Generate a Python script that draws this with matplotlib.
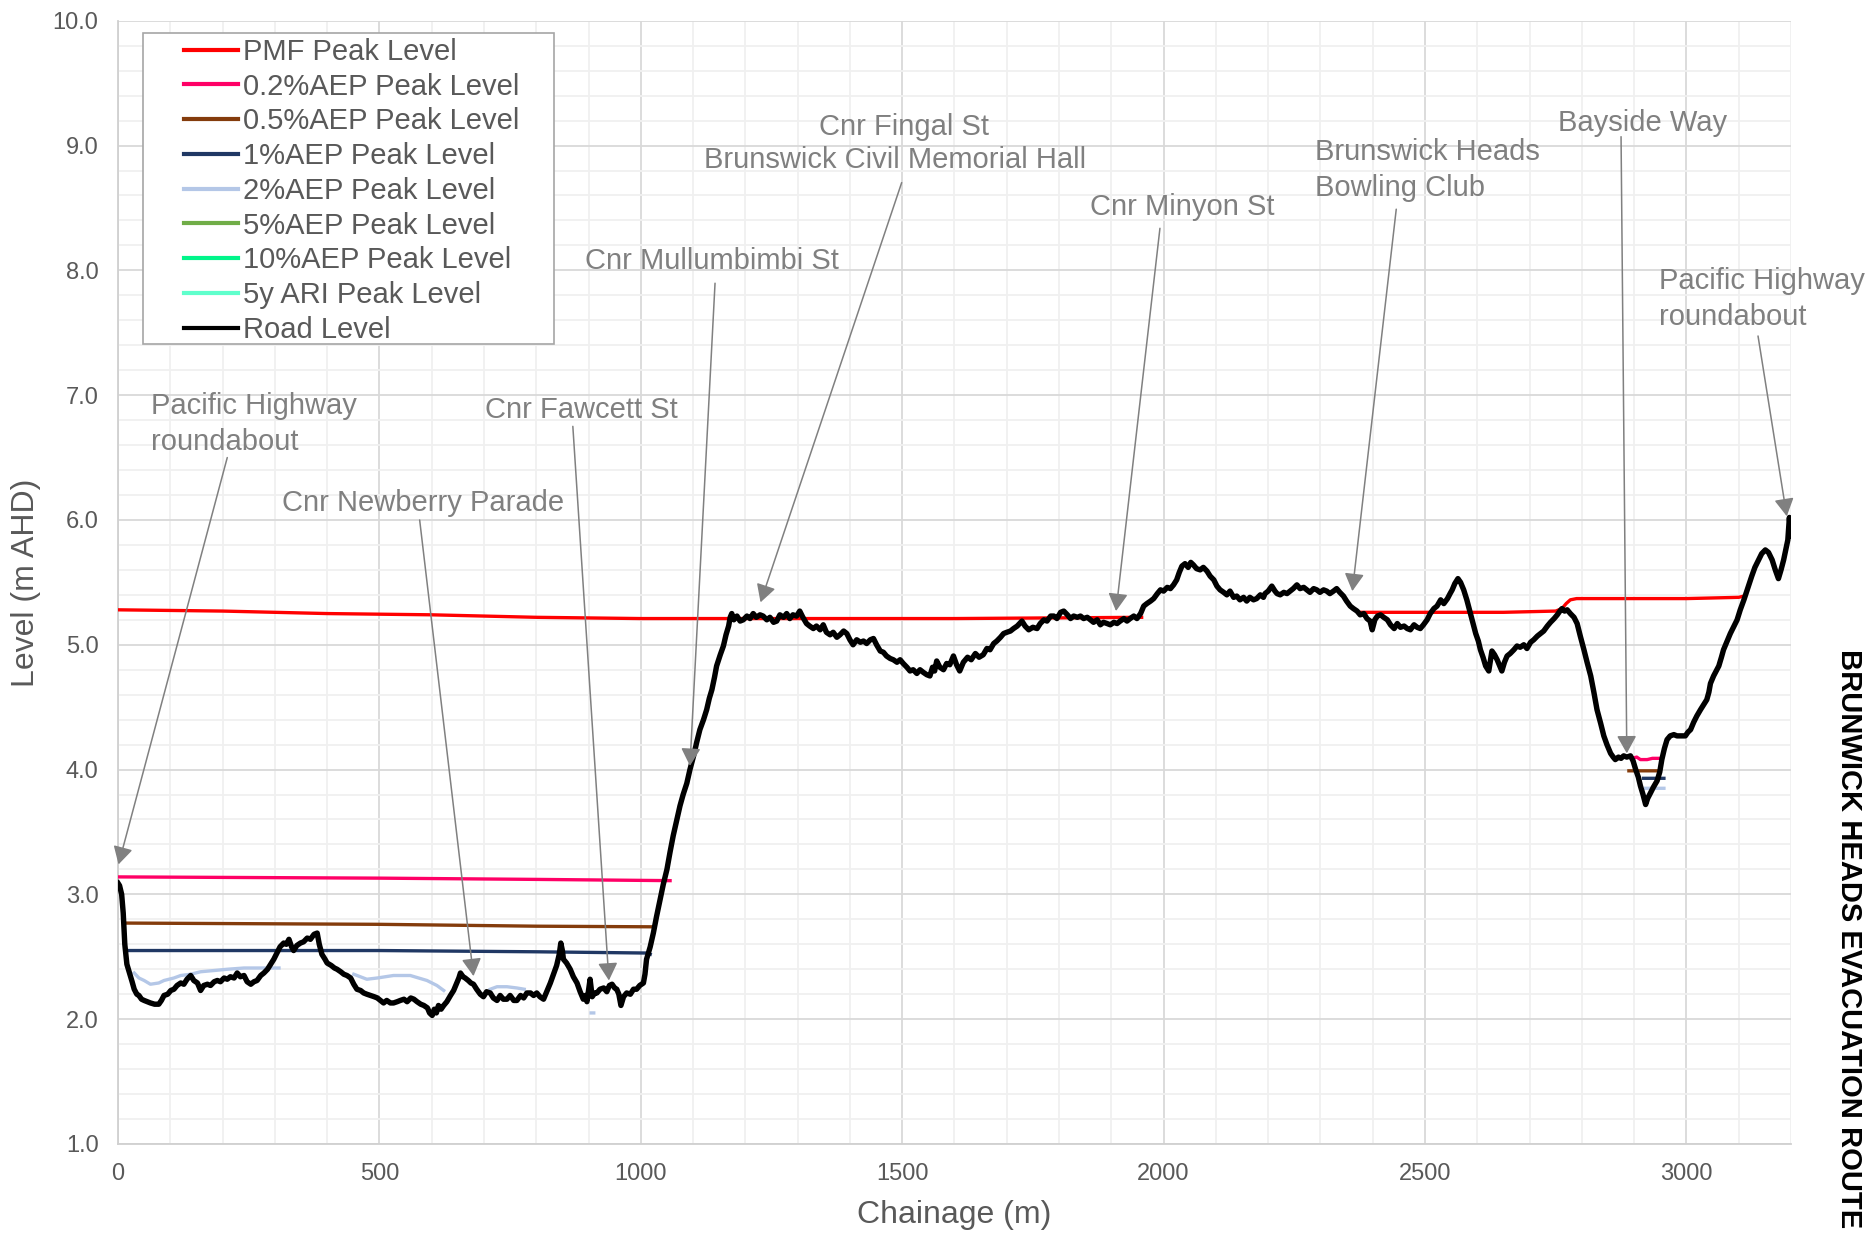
import matplotlib
matplotlib.use('Agg')
import matplotlib.pyplot as plt
import numpy as np
from matplotlib.patches import Rectangle
from matplotlib.ticker import MultipleLocator, FormatStrFormatter

plt.rcParams['font.family'] = ['Liberation Sans', 'DejaVu Sans']

nan = np.nan

# road profile (chainage m, level m AHD)
road_ch = [
    0, 3, 7, 10, 13, 17, 22, 27, 31, 36, 40, 45, 50, 56, 62, 70, 78, 83, 88, 95,
    101, 107, 113, 120, 126, 132, 139, 145, 152, 158, 164, 171, 177, 184, 190, 196,
    203, 209, 215, 222, 228, 234, 241, 247, 254, 260, 266, 273, 279, 286, 292, 298,
    304, 310, 317, 322, 327, 332, 336, 342, 349, 355, 362, 368, 375, 381, 385, 390,
    396, 400, 408, 414, 419, 426, 432, 438, 445, 451, 457, 464, 470, 476, 483, 490,
    496, 502, 508, 514, 521, 527, 534, 540, 547, 553, 560, 566, 572, 579, 585, 592,
    596, 601, 605, 609, 613, 618, 623, 629, 636, 642, 648, 652, 655, 660, 664, 670,
    675, 680, 686, 693, 699, 705, 712, 718, 725, 731, 737, 744, 750, 757, 763, 770,
    776, 782, 789, 795, 801, 807, 814, 820, 827, 833, 839, 844, 847, 850, 852, 858,
    865, 871, 878, 884, 890, 894, 897, 903, 907, 912, 916, 922, 929, 935, 940, 945,
    950, 954, 958, 962, 967, 973, 980, 986, 992, 998, 1005, 1008, 1011, 1018, 1024,
    1030, 1037, 1043, 1050, 1056, 1062, 1069, 1075, 1081, 1088, 1094, 1101, 1107,
    1113, 1120, 1126, 1131, 1136, 1141, 1145, 1152, 1158, 1163, 1168, 1171, 1174,
    1178, 1184, 1190, 1196, 1203, 1209, 1215, 1221, 1228, 1234, 1241, 1247, 1254,
    1260, 1266, 1273, 1279, 1285, 1291, 1298, 1304, 1310, 1317, 1323, 1330, 1336,
    1343, 1349, 1355, 1362, 1368, 1375, 1381, 1388, 1394, 1400, 1406, 1413, 1420,
    1426, 1432, 1439, 1445, 1451, 1458, 1464, 1470, 1477, 1483, 1490, 1496, 1502,
    1509, 1515, 1521, 1528, 1534, 1540, 1547, 1553, 1558, 1562, 1566, 1572, 1579,
    1585, 1591, 1598, 1604, 1610, 1617, 1625, 1632, 1640, 1647, 1655, 1662, 1668,
    1675, 1681, 1688, 1694, 1700, 1707, 1713, 1720, 1729, 1735, 1742, 1750, 1758,
    1764, 1771, 1777, 1784, 1790, 1796, 1803, 1809, 1816, 1822, 1828, 1835, 1841,
    1847, 1854, 1860, 1866, 1873, 1879, 1885, 1892, 1898, 1905, 1911, 1917, 1924,
    1930, 1936, 1943, 1949, 1956, 1962, 1968, 1975, 1981, 1988, 1994, 2000, 2007,
    2013, 2019, 2025, 2030, 2035, 2041, 2047, 2052, 2057, 2063, 2070, 2076, 2083,
    2089, 2096, 2102, 2108, 2115, 2121, 2127, 2134, 2140, 2146, 2153, 2159, 2165,
    2172, 2178, 2185, 2191, 2194, 2200, 2207, 2213, 2217, 2223, 2230, 2236, 2242,
    2248, 2255, 2261, 2268, 2274, 2280, 2287, 2293, 2299, 2306, 2312, 2318, 2325,
    2331, 2337, 2344, 2350, 2357, 2363, 2370, 2376, 2383, 2389, 2395, 2399, 2404,
    2409, 2415, 2421, 2428, 2434, 2441, 2447, 2453, 2460, 2466, 2472, 2479, 2485,
    2491, 2497, 2504, 2510, 2517, 2523, 2530, 2536, 2543, 2548, 2552, 2557, 2563,
    2568, 2574, 2580, 2587, 2592, 2597, 2602, 2606, 2611, 2616, 2622, 2625, 2628,
    2633, 2638, 2642, 2647, 2652, 2657, 2663, 2670, 2676, 2682, 2689, 2695, 2702,
    2708, 2715, 2721, 2727, 2734, 2740, 2747, 2753, 2758, 2762, 2767, 2772, 2778,
    2785, 2791, 2797, 2804, 2810, 2817, 2823, 2829, 2836, 2842, 2848, 2855, 2860,
    2864, 2870, 2875, 2880, 2886, 2893, 2898, 2903, 2908, 2912, 2917, 2922, 2926,
    2931, 2937, 2944, 2949, 2953, 2958, 2963, 2969, 2976, 2982, 2990, 2998, 3003,
    3008, 3014, 3020, 3027, 3033, 3039, 3043, 3046, 3052, 3057, 3062, 3067, 3071,
    3078, 3084, 3090, 3097, 3103, 3110, 3117, 3125, 3131, 3138, 3144, 3151, 3157,
    3164, 3170, 3176, 3181, 3186, 3190, 3194, 3197, 3199, 3200,
]
road_lv = [
    3.09, 3.07, 3.00, 2.85, 2.60, 2.44, 2.37, 2.30, 2.24, 2.20, 2.19, 2.16, 2.15, 2.14, 2.13, 2.12, 2.12, 2.15, 2.19, 2.20,
    2.23, 2.24, 2.27, 2.29, 2.28, 2.32, 2.35, 2.31, 2.29, 2.23, 2.27, 2.28, 2.27, 2.30, 2.31, 2.30,
    2.33, 2.32, 2.34, 2.33, 2.37, 2.34, 2.35, 2.30, 2.28, 2.30, 2.31, 2.35, 2.37, 2.40, 2.44, 2.48,
    2.53, 2.58, 2.61, 2.60, 2.64, 2.58, 2.55, 2.59, 2.61, 2.62, 2.65, 2.64, 2.68, 2.69, 2.60, 2.52,
    2.48, 2.45, 2.43, 2.41, 2.40, 2.38, 2.36, 2.35, 2.33, 2.28, 2.24, 2.23, 2.21, 2.20, 2.19, 2.18,
    2.17, 2.15, 2.13, 2.15, 2.13, 2.13, 2.14, 2.15, 2.16, 2.14, 2.17, 2.16, 2.14, 2.12, 2.11, 2.09,
    2.05, 2.03, 2.08, 2.05, 2.11, 2.08, 2.11, 2.14, 2.19, 2.23, 2.29, 2.33, 2.37, 2.34, 2.33, 2.31,
    2.29, 2.28, 2.24, 2.20, 2.18, 2.22, 2.21, 2.17, 2.15, 2.19, 2.16, 2.16, 2.19, 2.15, 2.15, 2.19,
    2.17, 2.21, 2.21, 2.19, 2.21, 2.18, 2.16, 2.22, 2.29, 2.36, 2.43, 2.52, 2.61, 2.55, 2.48, 2.45,
    2.40, 2.34, 2.29, 2.22, 2.16, 2.19, 2.14, 2.32, 2.18, 2.21, 2.21, 2.24, 2.25, 2.22, 2.27, 2.28,
    2.25, 2.24, 2.20, 2.11, 2.18, 2.21, 2.20, 2.24, 2.24, 2.27, 2.29, 2.36, 2.48, 2.58, 2.69,
    2.82, 2.96, 3.08, 3.20, 3.34, 3.47, 3.60, 3.71, 3.80, 3.89, 4.00, 4.11, 4.22,
    4.32, 4.40, 4.48, 4.57, 4.64, 4.74, 4.83, 4.92, 4.99, 5.08, 5.15, 5.22, 5.25,
    5.20, 5.23, 5.19, 5.20, 5.23, 5.21, 5.25, 5.22, 5.24, 5.23, 5.20, 5.22, 5.18,
    5.19, 5.24, 5.22, 5.25, 5.21, 5.24, 5.23, 5.27, 5.22, 5.17, 5.15, 5.13, 5.15,
    5.12, 5.16, 5.10, 5.08, 5.10, 5.06, 5.08, 5.11, 5.09, 5.04, 5.00, 5.04, 5.02,
    5.03, 5.01, 5.04, 5.05, 5.00, 4.95, 4.94, 4.91, 4.89, 4.88, 4.86, 4.88, 4.85,
    4.82, 4.79, 4.80, 4.77, 4.80, 4.78, 4.76, 4.75, 4.82, 4.79, 4.87, 4.82, 4.80,
    4.85, 4.84, 4.91, 4.84, 4.79, 4.86, 4.90, 4.88, 4.93, 4.90, 4.92, 4.97, 4.96,
    5.01, 5.03, 5.06, 5.09, 5.10, 5.11, 5.13, 5.15, 5.19, 5.15, 5.12, 5.14, 5.13,
    5.17, 5.20, 5.19, 5.23, 5.23, 5.21, 5.26, 5.27, 5.24, 5.21, 5.23, 5.22, 5.23,
    5.21, 5.22, 5.20, 5.18, 5.20, 5.16, 5.18, 5.17, 5.16, 5.18, 5.17, 5.19, 5.21,
    5.19, 5.21, 5.23, 5.21, 5.25, 5.31, 5.33, 5.35, 5.37, 5.41, 5.44, 5.43, 5.46,
    5.45, 5.48, 5.52, 5.58, 5.63, 5.65, 5.62, 5.66, 5.64, 5.61, 5.60, 5.62, 5.59,
    5.55, 5.52, 5.47, 5.44, 5.42, 5.40, 5.43, 5.38, 5.39, 5.36, 5.38, 5.35, 5.38,
    5.36, 5.37, 5.40, 5.38, 5.41, 5.43, 5.47, 5.43, 5.41, 5.40, 5.42, 5.41, 5.43,
    5.45, 5.48, 5.45, 5.46, 5.44, 5.42, 5.45, 5.44, 5.42, 5.44, 5.43, 5.41, 5.43,
    5.45, 5.42, 5.39, 5.35, 5.31, 5.29, 5.27, 5.24, 5.25, 5.21, 5.19, 5.12, 5.20,
    5.23, 5.24, 5.22, 5.20, 5.16, 5.13, 5.17, 5.14, 5.15, 5.13, 5.12, 5.16, 5.14,
    5.13, 5.16, 5.20, 5.25, 5.29, 5.31, 5.36, 5.33, 5.37, 5.41, 5.44, 5.49, 5.53,
    5.50, 5.44, 5.36, 5.25, 5.17, 5.09, 5.03, 4.96, 4.90, 4.83, 4.79, 4.87, 4.95,
    4.92, 4.88, 4.84, 4.79, 4.86, 4.91, 4.93, 4.96, 4.99, 4.98, 5.00, 4.97, 5.02,
    5.04, 5.07, 5.09, 5.11, 5.15, 5.18, 5.21, 5.24, 5.27, 5.29, 5.27, 5.28, 5.25,
    5.22, 5.17, 5.07, 4.96, 4.86, 4.75, 4.62, 4.48, 4.37, 4.27, 4.20, 4.13, 4.10,
    4.08, 4.10, 4.09, 4.11, 4.10, 4.11, 4.07, 4.00, 3.94, 3.87, 3.80, 3.72, 3.77,
    3.81, 3.86, 3.91, 3.98, 4.08, 4.17, 4.24, 4.27, 4.28, 4.27, 4.27, 4.27, 4.30,
    4.32, 4.38, 4.43, 4.48, 4.52, 4.56, 4.62, 4.69, 4.75, 4.79, 4.83, 4.90, 4.96,
    5.03, 5.09, 5.14, 5.20, 5.28, 5.36, 5.45, 5.55, 5.62, 5.68, 5.73, 5.76, 5.74,
    5.68, 5.60, 5.53, 5.60, 5.68, 5.76, 5.84, 6.02, 5.90, 5.87,
]

# flood peak levels (nan = no flooding / gap)
pmf_ch = [0, 200, 400, 600, 800, 1000, 1300, 1600, 1958, nan,
          2378, 2500, 2650, 2750, 2762, 2770, 2778, 2790, 2900, 3000, 3100, 3110]
pmf_lv = [5.28, 5.27, 5.25, 5.24, 5.22, 5.21, 5.21, 5.21, 5.22, nan,
          5.26, 5.26, 5.26, 5.27, 5.29, 5.33, 5.36, 5.37, 5.37, 5.37, 5.38, 5.39]

aep02_ch = [0, 500, 800, 1056, nan, 2896, 2905, 2912, 2925, 2935, 2945, 2953]
aep02_lv = [3.14, 3.13, 3.12, 3.11, nan, 4.09, 4.10, 4.08, 4.08, 4.09, 4.09, 4.09]

aep05_ch = [15, 500, 800, 1027, nan, 2890, 2920, 2947]
aep05_lv = [2.77, 2.76, 2.745, 2.74, nan, 3.99, 3.99, 3.99]

aep1_ch = [18, 500, 800, 1010, 1018, nan, 2918, 2957]
aep1_lv = [2.55, 2.55, 2.54, 2.53, 2.52, nan, 3.93, 3.93]

aep2_ch = [31, 40, 50, 62, 78, 88, 107, 120, 139, 158, 184, 209, 241, 273, 308, nan,
           451, 476, 496, 527, 559, 591, 610, 623, nan,
           712, 725, 744, 763, 777, nan, 905, 910, nan, 2922, 2957]
aep2_lv = [2.37, 2.33, 2.31, 2.28, 2.29, 2.31, 2.33, 2.35, 2.36, 2.38, 2.39, 2.40, 2.41, 2.41, 2.41, nan,
           2.36, 2.32, 2.33, 2.35, 2.35, 2.31, 2.27, 2.23, nan,
           2.24, 2.26, 2.26, 2.25, 2.24, nan, 2.05, 2.05, nan, 3.85, 3.85]

aep5_ch, aep5_lv = [], []
aep10_ch, aep10_lv = [], []
ari5_ch, ari5_lv = [], []

series = [
    ('PMF Peak Level', pmf_ch, pmf_lv, '#FF0000'),
    ('0.2%AEP Peak Level', aep02_ch, aep02_lv, '#FF0066'),
    ('0.5%AEP Peak Level', aep05_ch, aep05_lv, '#843C0C'),
    ('1%AEP Peak Level', aep1_ch, aep1_lv, '#203864'),
    ('2%AEP Peak Level', aep2_ch, aep2_lv, '#B4C7E7'),
    ('5%AEP Peak Level', aep5_ch, aep5_lv, '#70AD47'),
    ('10%AEP Peak Level', aep10_ch, aep10_lv, '#00F58A'),
    ('5y ARI Peak Level', ari5_ch, ari5_lv, '#5FFFCC'),
]

# callouts: label, text anchor (chainage, level), alignment, arrow tail, arrow tip
callouts = [
    ('Pacific Highway\nroundabout', (64, 6.77), 'left', (209, 6.50), (1, 3.24)),
    ('Cnr Newberry Parade', (583, 6.137), 'center', (577, 6.00), (680, 2.345)),
    ('Cnr Fawcett St', (886, 6.884), 'center', (870, 6.75), (939, 2.31)),
    ('Cnr Mullumbimbi St', (1137, 8.078), 'center', (1142, 7.897), (1094, 4.03)),
    ('Cnr Fingal St', (1503, 9.151), 'center', None, None),
    ('Brunswick Civil Memorial Hall', (1487, 8.887), 'center', (1499, 8.703), (1229, 5.34)),
    ('Cnr Minyon St', (2035, 8.51), 'center', (1993, 8.337), (1909, 5.27)),
    ('Brunswick Heads\nBowling Club', (2290, 8.805), 'left', (2445, 8.49), (2361, 5.43)),
    ('Bayside Way', (2916, 9.18), 'center', (2875, 9.071), (2886, 4.13)),
    ('Pacific Highway\nroundabout', (2947, 7.773), 'left', (3137, 7.474), (3192, 6.03)),
]

GRAY_TEXT = '#595959'
CALLOUT = '#808080'

fig = plt.figure(figsize=(18.73, 12.35), dpi=100)
ax = fig.add_axes([0.0630, 0.0737, 0.8932, 0.9095])

handles = []
for label, ch, lv, color in series:
    h, = ax.plot(ch, lv, color=color, linewidth=2.4, label=label, zorder=3)
    handles.append(h)
road, = ax.plot(road_ch, road_lv, color='black', linewidth=3.9, label='Road Level',
                solid_joinstyle='round', zorder=4)
handles.append(road)

for text, (tx, ty), ha, tail, tip in callouts:
    ax.text(tx, ty, text, ha=ha, va='center', fontsize=21, color=CALLOUT,
            linespacing=1.35, zorder=6)
    if tip is None:
        continue
    ax.annotate('', xy=tip, xytext=tail,
                arrowprops=dict(arrowstyle='-|>,head_length=0.45,head_width=0.25',
                                color=CALLOUT, lw=1.1, shrinkA=0, shrinkB=0,
                                mutation_scale=24),
                zorder=6)

ax.set_xlim(0, 3200)
ax.set_ylim(1.0, 10.0)
ax.xaxis.set_major_locator(MultipleLocator(500))
ax.xaxis.set_minor_locator(MultipleLocator(100))
ax.yaxis.set_major_locator(MultipleLocator(1.0))
ax.yaxis.set_minor_locator(MultipleLocator(0.2))
ax.yaxis.set_major_formatter(FormatStrFormatter('%.1f'))
ax.grid(which='major', color='#d9d9d9', linewidth=1.3)
ax.grid(which='minor', color='#f0f0f0', linewidth=1.3)
ax.set_axisbelow(True)
ax.tick_params(which='both', length=0, labelsize=17, labelcolor=GRAY_TEXT)
ax.tick_params(axis='y', pad=14)
ax.tick_params(axis='x', pad=13.5)
for side in ['top', 'right']:
    ax.spines[side].set_visible(False)
for side in ['left', 'bottom']:
    ax.spines[side].set_color('#d0d0d0')
    ax.spines[side].set_linewidth(1.3)

ax.set_xlabel('Chainage (m)', fontsize=23, color=GRAY_TEXT, va='center')
ax.set_ylabel('Level (m AHD)', fontsize=23, color=GRAY_TEXT, va='center')
ax.xaxis.set_label_coords(0.5, -0.0632)
ax.yaxis.set_label_coords(-0.0548, 0.5)

# legend box drawn separately (Excel style wide side padding)
box = Rectangle((0.0149, 0.712), 0.2457, 0.2769, transform=ax.transAxes,
                facecolor='white', edgecolor='#a6a6a6', linewidth=1.2, zorder=8)
ax.add_patch(box)
leg = ax.legend(handles=handles, loc='upper left', bbox_to_anchor=(0.0397, 0.9847),
                frameon=False, fontsize=21, handlelength=1.85, handletextpad=0.17,
                labelspacing=0.231, borderpad=0, borderaxespad=0, labelcolor=GRAY_TEXT)
for line in leg.get_lines():
    line.set_linewidth(3.0)
leg.set_zorder(9)

fig.text(0.987, 0.240, 'BRUNWICK HEADS EVACUATION ROUTE', rotation=-90,
         ha='center', va='center', fontsize=21, fontweight='bold', color='black')

fig.savefig('out.png', dpi=100)
